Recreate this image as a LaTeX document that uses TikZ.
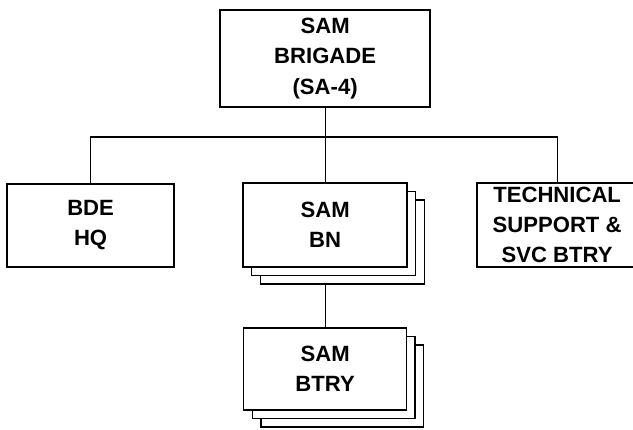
\documentclass[tikz,border=0pt]{standalone}
\usepackage{fontspec}
\setmainfont{Liberation Sans}
\usetikzlibrary{positioning,shadows,backgrounds}

\begin{document}
\begin{tikzpicture}[
  box/.style={draw,line width=1.3pt,fill=white,align=center,inner sep=0pt,
    font=\bfseries\fontsize{22}{30}\selectfont},
  stack/.style={box,
    general shadow={shadow xshift=0.6cm,shadow yshift=-0.6cm,fill=white,draw,line width=1.3pt},
    general shadow={shadow xshift=0.3cm,shadow yshift=-0.3cm,fill=white,draw,line width=1.3pt}},
  link/.style={line width=1.2pt}]
  \useasboundingbox (0,0) rectangle (22.155,-15.05);
  % 旅団本部
  \node[box,minimum width=7.35cm,minimum height=3.4cm] (brigade) at (11.38,-2.05)
    {SAM\\BRIGADE\\(SA-4)};
  % 下位部隊
  \node[box,minimum width=5.85cm,minimum height=2.9cm] (hq) at (3.17,-7.89) {BDE\\HQ};
  \node[stack,minimum width=5.74cm,minimum height=2.94cm] (bn) at (11.38,-7.875) {SAM\\BN};
  \node[box,minimum width=5.6cm,minimum height=2.94cm] (tech) at (19.5,-7.875)
    {TECHNICAL\\SUPPORT \&\\SVC BTRY};
  \node[stack,minimum width=5.7cm,minimum height=2.87cm] (btry) at (11.38,-12.915) {SAM\\BTRY};
  % 接続線
  \coordinate (bus) at (11.38,-4.795);
  \draw[link] (brigade) -- (bus);
  \draw[link] (hq) |- (bus) -| (tech);
  \draw[link] (bus) -- (bn);
  \begin{scope}[on background layer]
    \draw[link] (bn) -- (btry);
  \end{scope}
\end{tikzpicture}
\end{document}
